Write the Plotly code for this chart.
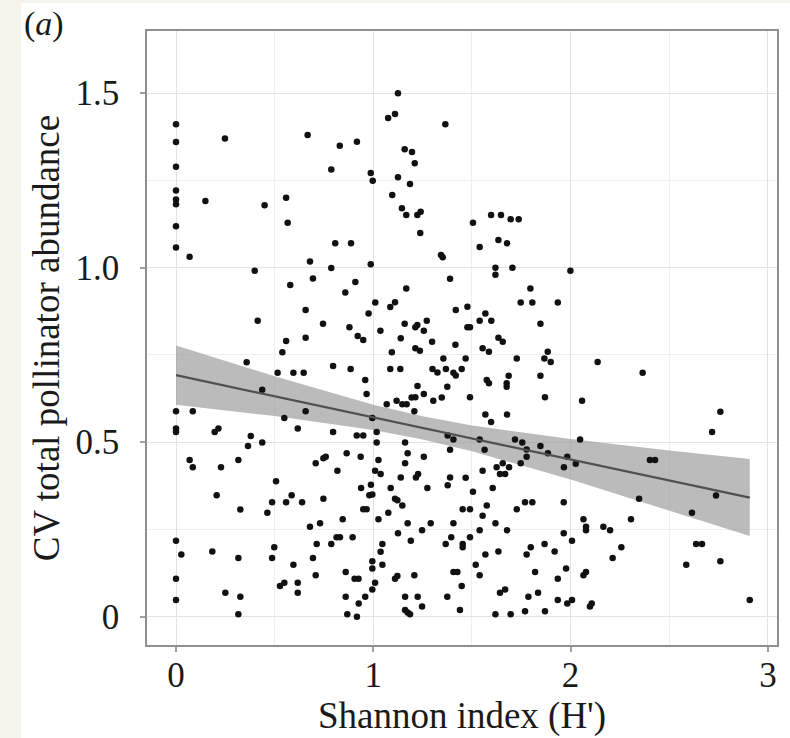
import plotly.graph_objects as go

# ---- data ----
shannon = [
    # x = 0..0.72, upper
    0.000, 0.000, 0.000, 0.000, 0.000, 0.000, 0.000, 0.000,
    0.248, 0.667, 0.149, 0.449, 0.558, 0.566, 0.069, 0.679, 0.399, 0.694, 0.579, 0.657, 0.414, 0.558, 0.657, 0.539,
    # x = 0..0.72, lower
    0.358, 0.515, 0.595, 0.647, 0.437, 0.000, 0.085, 0.657, 0.549, 0.617, 0.000, 0.000, 0.196, 0.215, 0.379, 0.365,
    0.437, 0.069, 0.085, 0.228, 0.316, 0.708, 0.507, 0.206, 0.586, 0.487, 0.558, 0.639, 0.326, 0.463, 0.679, 0.000,
    0.027, 0.184, 0.316, 0.498, 0.487, 0.595, 0.694, 0.713, 0.708, 0.000, 0.000, 0.250, 0.326, 0.316, 0.527, 0.549,
    0.617, 0.617,
    # x = 0.72..1.46, upper
    1.125, 1.075, 1.110, 1.365, 0.830, 0.917, 0.787, 0.987, 0.997, 1.159, 1.196, 1.210, 1.125, 1.186, 1.096, 1.145,
    1.167, 1.223, 1.240, 1.238, 0.807, 0.887, 1.343, 1.352, 0.787, 0.987, 0.909, 0.858, 1.389, 1.167, 1.010, 1.086,
    1.110, 0.976, 1.418, 0.745, 0.879, 0.921, 0.949, 1.036, 1.159, 1.213, 1.223, 1.271, 1.256, 1.139, 1.298, 1.416,
    1.094, 1.213, 1.236,
    # x = 0.72..1.46, lower
    1.355, 0.796, 0.885, 1.086, 1.137, 1.300, 1.325, 1.368, 1.406, 1.418, 1.448, 0.959, 1.224, 1.375, 0.966, 1.256,
    1.194, 1.213, 1.347, 1.304, 1.118, 1.147, 1.169, 1.068, 1.208, 0.995, 0.796, 0.916, 0.949, 1.017, 1.017, 1.161,
    1.377, 1.406, 1.389, 0.747, 0.759, 0.865, 0.936, 1.026, 1.174, 1.256, 1.161, 0.818, 1.009, 1.037, 1.139, 1.216,
    1.227, 1.389, 1.377, 0.988, 0.938, 1.088, 1.274, 0.980, 0.995, 0.747, 1.110, 1.122, 1.147, 0.949, 0.966, 1.076,
    1.453, 0.845, 1.026, 0.730, 1.174, 1.291, 1.406, 1.247, 1.125, 1.395, 0.814, 0.831, 0.895, 0.787, 1.046, 1.190,
    1.367, 1.453, 1.453, 1.037, 0.995, 1.046, 0.995, 0.860, 0.905, 0.925, 1.009, 0.995, 1.110, 1.122, 1.208, 1.406,
    1.426, 1.448, 0.860, 0.959, 0.926, 0.868, 0.917, 1.161, 1.225, 1.247, 1.161, 1.174, 1.186, 1.375, 1.439,
    # x = 1.46..2.22, upper
    1.505, 1.597, 1.647, 1.696, 1.737, 1.539, 1.634, 1.678, 1.619, 1.619, 1.705, 1.999, 1.796, 1.747, 1.806, 1.935,
    1.477, 1.568, 1.539, 1.598, 1.477, 1.490, 1.847, 1.634, 1.656, 1.554, 1.586, 1.884,
    # x = 1.46..2.22, lower
    1.468, 1.727, 1.867, 1.899, 2.137, 1.847, 1.575, 1.586, 1.686, 1.676, 1.676, 1.490, 1.870, 2.058, 1.568, 1.678,
    1.597, 2.048, 1.539, 1.718, 1.755, 1.847, 1.564, 1.777, 1.777, 1.885, 1.983, 1.747, 1.966, 2.026, 1.625, 1.656,
    1.688, 1.642, 1.668, 1.554, 1.468, 1.605, 1.505, 1.769, 1.806, 1.965, 1.575, 1.727, 1.490, 1.554, 1.619, 2.065,
    2.078, 2.078, 2.166, 2.200, 1.539, 1.678, 1.965, 1.490, 2.007, 1.868, 1.798, 1.919, 1.634, 1.568, 1.777, 2.213,
    1.519, 1.977, 1.820, 1.539, 2.065, 2.078, 1.935, 1.642, 1.668, 1.835, 1.786, 1.935, 1.983, 2.007, 2.098, 2.107,
    1.619, 1.696, 1.769, 1.870,
    # x > 2.22
    2.365, 2.759, 2.717, 2.402, 2.428, 2.737, 2.347, 2.306, 2.615, 2.257, 2.636, 2.666, 2.586, 2.759, 2.908,
]

cv_abundance = [
    1.411, 1.360, 1.289, 1.221, 1.195, 1.182, 1.119, 1.058,
    1.370, 1.380, 1.191, 1.179, 1.200, 1.129, 1.031, 1.018, 0.991, 0.969, 0.950, 0.879, 0.848, 0.790, 0.799, 0.758,
    0.729, 0.699, 0.699, 0.699, 0.650, 0.589, 0.589, 0.589, 0.569, 0.539, 0.539, 0.529, 0.529, 0.539, 0.518, 0.489,
    0.499, 0.449, 0.428, 0.428, 0.449, 0.440, 0.388, 0.348, 0.348, 0.328, 0.328, 0.328, 0.307, 0.298, 0.258, 0.218,
    0.178, 0.187, 0.168, 0.199, 0.168, 0.149, 0.168, 0.208, 0.119, 0.109, 0.048, 0.069, 0.057, 0.007, 0.088, 0.097,
    0.097, 0.069,
    1.500, 1.429, 1.440, 1.411, 1.349, 1.361, 1.281, 1.271, 1.249, 1.339, 1.331, 1.299, 1.259, 1.240, 1.208, 1.170,
    1.151, 1.151, 1.160, 1.099, 1.070, 1.070, 1.036, 1.030, 0.999, 1.010, 0.959, 0.929, 0.968, 0.940, 0.900, 0.887,
    0.901, 0.869, 0.879, 0.839, 0.829, 0.804, 0.793, 0.819, 0.839, 0.829, 0.836, 0.848, 0.819, 0.798, 0.788, 0.779,
    0.758, 0.769, 0.762,
    0.740, 0.718, 0.710, 0.710, 0.710, 0.710, 0.700, 0.710, 0.699, 0.691, 0.710, 0.678, 0.661, 0.659, 0.638, 0.638,
    0.628, 0.629, 0.628, 0.619, 0.619, 0.609, 0.609, 0.609, 0.589, 0.569, 0.529, 0.519, 0.519, 0.529, 0.499, 0.499,
    0.519, 0.508, 0.478, 0.454, 0.458, 0.468, 0.458, 0.449, 0.468, 0.458, 0.440, 0.418, 0.418, 0.409, 0.399, 0.399,
    0.409, 0.399, 0.377, 0.378, 0.369, 0.369, 0.369, 0.348, 0.350, 0.338, 0.338, 0.334, 0.319, 0.308, 0.308, 0.298,
    0.308, 0.279, 0.279, 0.268, 0.268, 0.268, 0.268, 0.248, 0.239, 0.228, 0.228, 0.228, 0.228, 0.208, 0.208, 0.218,
    0.208, 0.208, 0.199, 0.186, 0.159, 0.149, 0.138, 0.128, 0.109, 0.109, 0.097, 0.078, 0.109, 0.117, 0.119, 0.128,
    0.128, 0.088, 0.057, 0.057, 0.038, 0.007, 0.000, 0.057, 0.057, 0.029, 0.019, 0.012, 0.007, 0.057, 0.019,
    1.129, 1.151, 1.151, 1.139, 1.139, 1.059, 1.079, 1.070, 1.000, 0.980, 1.000, 0.991, 0.940, 0.900, 0.900, 0.900,
    0.888, 0.869, 0.848, 0.848, 0.829, 0.829, 0.839, 0.799, 0.788, 0.769, 0.759, 0.759,
    0.740, 0.740, 0.740, 0.730, 0.730, 0.690, 0.678, 0.669, 0.690, 0.669, 0.659, 0.629, 0.629, 0.619, 0.579, 0.579,
    0.558, 0.508, 0.508, 0.508, 0.499, 0.489, 0.478, 0.479, 0.458, 0.468, 0.458, 0.440, 0.428, 0.438, 0.428, 0.440,
    0.428, 0.409, 0.409, 0.418, 0.398, 0.369, 0.358, 0.328, 0.328, 0.328, 0.319, 0.308, 0.308, 0.289, 0.268, 0.279,
    0.258, 0.248, 0.258, 0.248, 0.248, 0.248, 0.239, 0.228, 0.218, 0.208, 0.199, 0.187, 0.187, 0.178, 0.178, 0.168,
    0.149, 0.138, 0.128, 0.119, 0.119, 0.128, 0.109, 0.069, 0.078, 0.069, 0.057, 0.048, 0.038, 0.048, 0.029, 0.038,
    0.007, 0.007, 0.016, 0.016,
    0.699, 0.587, 0.529, 0.449, 0.449, 0.347, 0.338, 0.279, 0.298, 0.199, 0.208, 0.208, 0.149, 0.159, 0.048,
]

# fitted linear trend and its 95% confidence band (read at a few x positions)
fit_x = [0.0, 0.5, 1.0, 1.25, 1.5, 2.0, 2.5, 2.908]
fit_y = [0.692, 0.632, 0.571, 0.541, 0.511, 0.451, 0.390, 0.341]
band_low = [0.607, 0.575, 0.535, 0.508, 0.474, 0.393, 0.304, 0.231]
band_high = [0.777, 0.689, 0.607, 0.574, 0.548, 0.509, 0.476, 0.452]

x_ticks = [0, 1, 2, 3]
x_tick_text = ["0", "1", "2", "3"]
y_ticks = [0, 0.5, 1.0, 1.5]
y_tick_text = ["0", "0.5", "1.0", "1.5"]

SERIF = "Liberation Serif, Times New Roman, serif"

fig = go.Figure()

fig.add_trace(go.Scatter(
    x=fit_x + fit_x[::-1], y=band_high + band_low[::-1],
    fill="toself", fillcolor="rgba(155,155,155,0.68)", line=dict(width=0),
    mode="lines", hoverinfo="skip", showlegend=False))

fig.add_trace(go.Scatter(
    x=shannon, y=cv_abundance, mode="markers",
    marker=dict(size=6.5, color="#111111", line=dict(width=0)),
    showlegend=False))

fig.add_trace(go.Scatter(
    x=fit_x, y=fit_y, mode="lines",
    line=dict(color="#505050", width=2.2), showlegend=False))

axis_common = dict(
    showline=True, linecolor="#8f8f8f", linewidth=1.6, mirror=True,
    ticks="outside", ticklen=5, tickcolor="#a0a0a0", tickwidth=1.5,
    gridcolor="#e3e3e3", gridwidth=1.2,
    minor=dict(showgrid=True, gridcolor="#efefef", gridwidth=1),
    zeroline=False, automargin=False,
    tickfont=dict(family=SERIF, size=35, color="#1a1a1a"),
)

fig.update_xaxes(
    range=[-0.147, 3.046], tickvals=x_ticks, ticktext=x_tick_text,
    minor_dtick=0.5, minor_tick0=0.5,
    title=dict(text="Shannon index (H')", font=dict(family=SERIF, size=37, color="#1a1a1a"), standoff=6),
    ticklabelstandoff=-7,
    **axis_common)

fig.update_yaxes(
    range=[-0.081, 1.678], tickvals=y_ticks, ticktext=y_tick_text,
    minor_dtick=0.25, minor_tick0=0.25,
    title=dict(text="CV total pollinator abundance", font=dict(family=SERIF, size=37, color="#1a1a1a"), standoff=5),
    ticklabelstandoff=14,
    **axis_common)

fig.update_layout(
    width=790, height=738,
    margin=dict(l=147, r=13, t=31, b=93),
    paper_bgcolor="white", plot_bgcolor="white",
    shapes=[
        dict(type="rect", xref="paper", yref="paper", x0=-147/630, x1=-126/630, y0=-93/614, y1=1 + 31/614,
             fillcolor="#f5f4ea", line=dict(width=0), layer="below"),
        dict(type="rect", xref="paper", yref="paper", x0=-147/630, x1=1 + 13/630, y0=1 + 28/614, y1=1 + 31/614,
             fillcolor="#f5f4ea", line=dict(width=0), layer="below"),
    ],
    annotations=[
        dict(text="(<i>a</i>)", xref="paper", yref="paper", x=-125/630, y=1 + 28/614,
             xanchor="left", yanchor="top", showarrow=False,
             font=dict(family=SERIF, size=34, color="#1a1a1a")),
    ],
)

fig.write_html("out.html")
